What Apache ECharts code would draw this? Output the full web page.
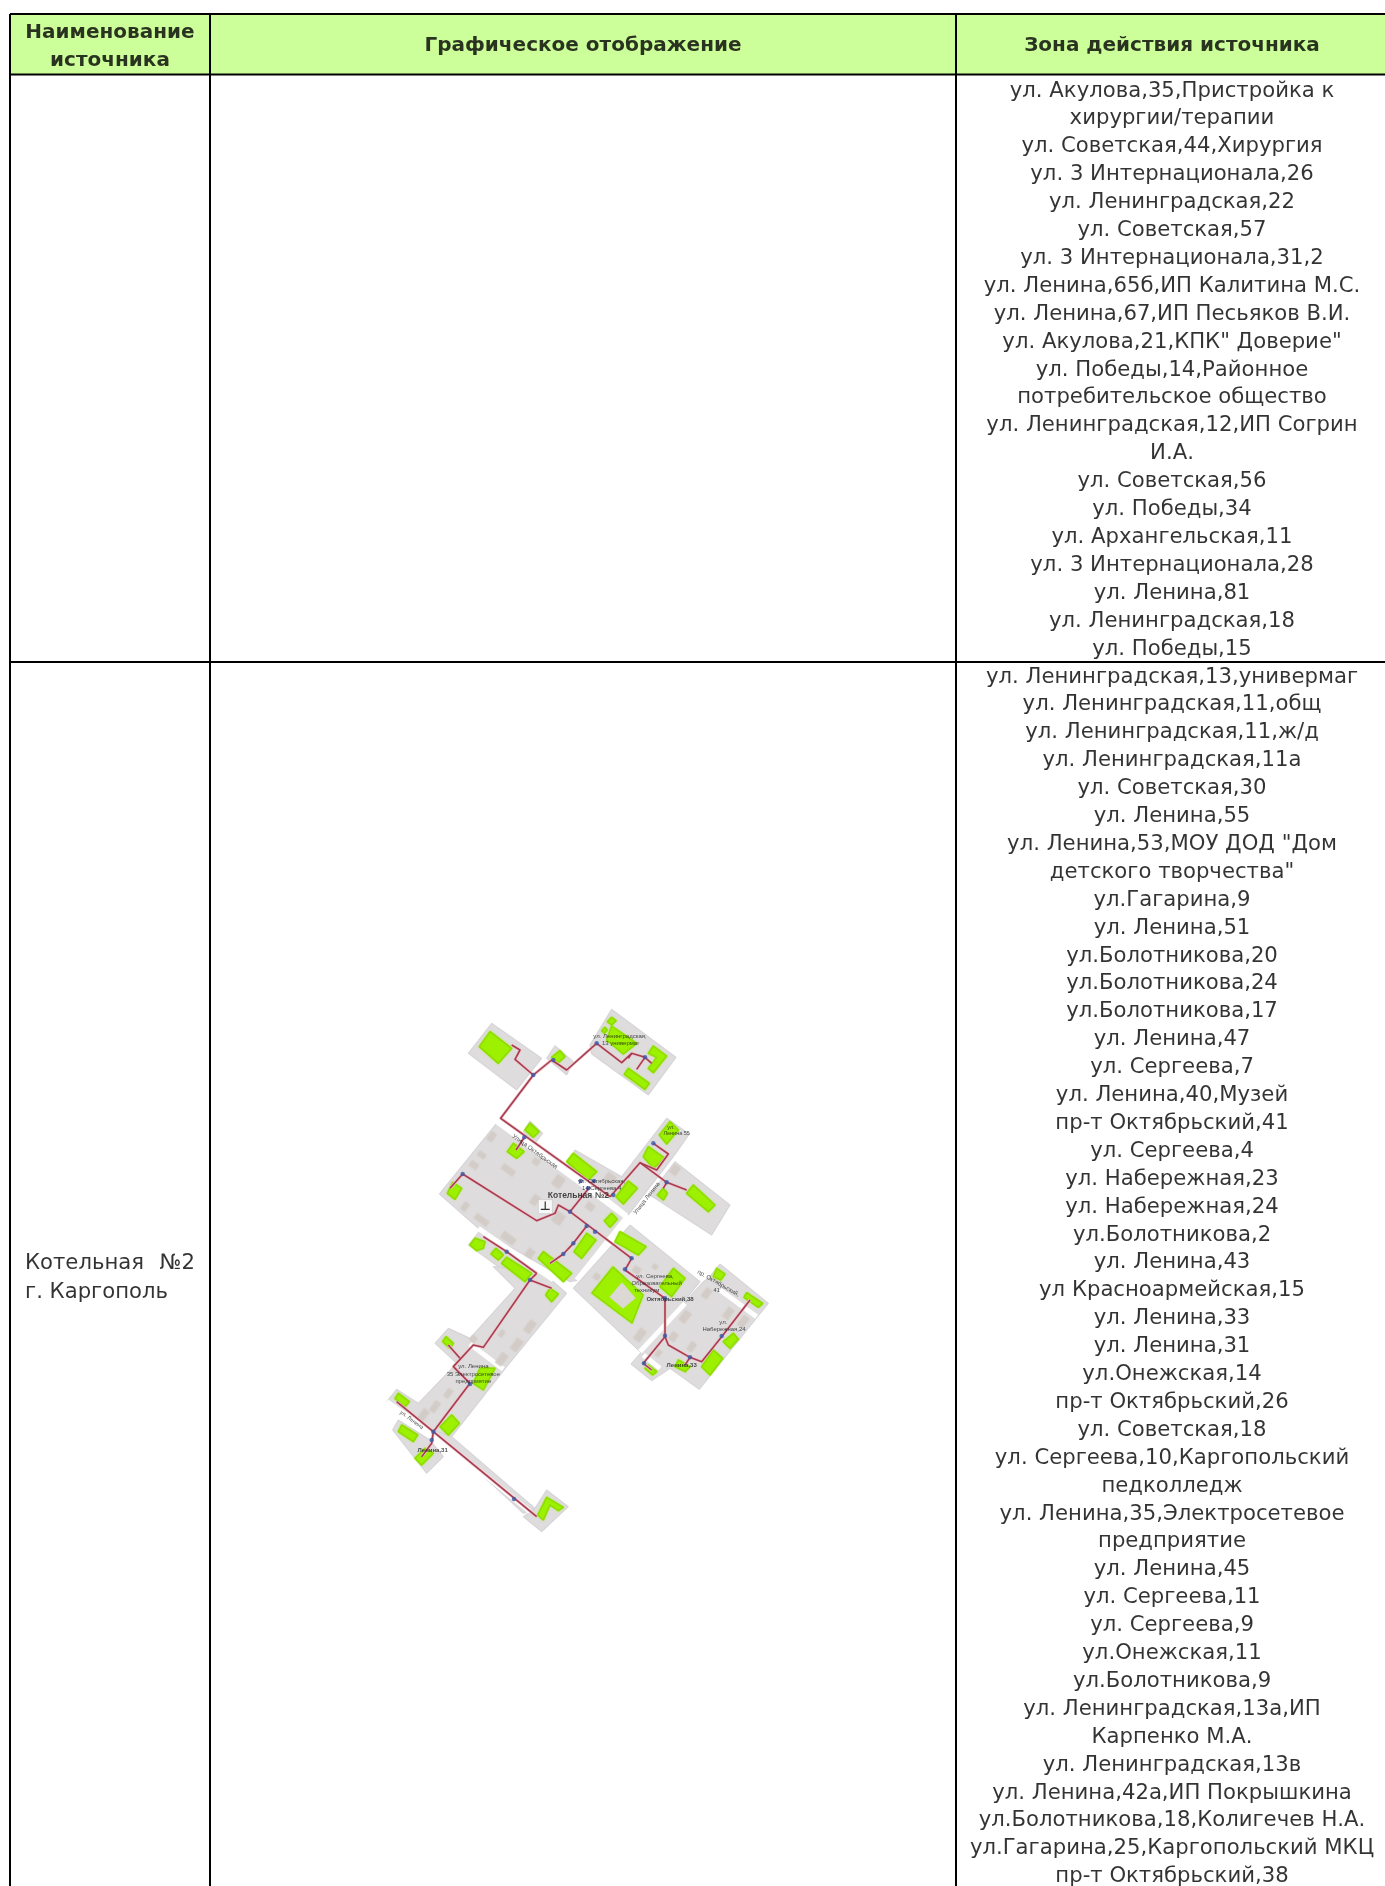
<!DOCTYPE html>
<html><head><meta charset="utf-8">
<style>html,body{margin:0;padding:0;background:#fff}#c{width:1385px;height:1886px}</style>
<script src="https://cdn.jsdelivr.net/npm/echarts@6/dist/echarts.min.js"></script>
</head><body><div id="c"></div>
<script>
const headerCols = ["Графическое отображение", "Зона действия источника"];
const headerFirst = ["Наименование", "источника"];
const sourceName = ["Котельная", "№2", "г. Каргополь"];
const zoneUpper = ["ул. Акулова,35,Пристройка к","хирургии/терапии","ул. Советская,44,Хирургия","ул. 3 Интернационала,26","ул. Ленинградская,22","ул. Советская,57","ул. 3 Интернационала,31,2","ул. Ленина,65б,ИП Калитина М.С.","ул. Ленина,67,ИП Песьяков В.И.","ул. Акулова,21,КПК\" Доверие\"","ул. Победы,14,Районное","потребительское общество","ул. Ленинградская,12,ИП Согрин","И.А.","ул. Советская,56","ул. Победы,34","ул. Архангельская,11","ул. 3 Интернационала,28","ул. Ленина,81","ул. Ленинградская,18","ул. Победы,15"];
const zoneLower = ["ул. Ленинградская,13,универмаг","ул. Ленинградская,11,общ","ул. Ленинградская,11,ж/д","ул. Ленинградская,11а","ул. Советская,30","ул. Ленина,55","ул. Ленина,53,МОУ ДОД \"Дом","детского творчества\"","ул.Гагарина,9","ул. Ленина,51","ул.Болотникова,20","ул.Болотникова,24","ул.Болотникова,17","ул. Ленина,47","ул. Сергеева,7","ул. Ленина,40,Музей","пр-т Октябрьский,41","ул. Сергеева,4","ул. Набережная,23","ул. Набережная,24","ул.Болотникова,2","ул. Ленина,43","ул Красноармейская,15","ул. Ленина,33","ул. Ленина,31","ул.Онежская,14","пр-т Октябрьский,26","ул. Советская,18","ул. Сергеева,10,Каргопольский","педколледж","ул. Ленина,35,Электросетевое","предприятие","ул. Ленина,45","ул. Сергеева,11","ул. Сергеева,9","ул.Онежская,11","ул.Болотникова,9","ул. Ленинградская,13а,ИП","Карпенко М.А.","ул. Ленинградская,13в","ул. Ленина,42а,ИП Покрышкина","ул.Болотникова,18,Колигечев Н.А.","ул.Гагарина,25,Каргопольский МКЦ","пр-т Октябрьский,38"];

// Map sheet: units are 1/3 px; "S" arrays are measured from the lower half of the sheet.
const blocks = [
 [[365,130],[515,235],[440,330],[295,220]],
 [[530,235],[555,197],[610,245],[590,285]],
 [[725,88],[918,232],[835,345],[665,222],[660,195]],
 [[480,423],[518,460],[495,490],[460,455]],
 [[378,432],[770,712],[625,900],[600,905],[325,745],[208,642]],
 [[330,752],[540,892],[500,960],[440,900],[295,795]],
 [[615,510],[755,590],[890,415],[958,462],[910,530],[775,705],[590,565]],
 [[915,545],[1080,675],[1025,765],[840,645]],
 [[780,735],[990,905],[815,1120],[610,925]],
 [[1050,852],[1195,970],[988,1228],[900,1165],[845,1202],[783,1152],[820,1110],[900,1015],[1000,905],[1015,895]]
];
const blocksS = [
 [[435,55],[300,205],[235,175],[195,220],[260,280],[145,400],[80,358],[50,395],[190,490],[245,500],[410,290],[590,70],[510,0],[370,-10]],
 [[85,450],[68,480],[170,610],[220,560],[180,510]],
 [[190,480],[245,500],[495,715],[460,730]],
 [[530,660],[595,710],[515,785],[460,740],[495,715]]
];
const roads = [
 [[380,425],[770,712]],[[770,712],[620,900]],[[325,745],[550,900]],[[590,565],[770,708]]
];
const roadsS = [
 [[300,222],[400,298]],[[945,100],[810,245]],[[1050,60],[1160,140]],[[820,255],[870,295]],[[50,395],[190,490]],[[190,490],[480,725]]
];
const lots = [[365,470,18,28],[335,525,24,16],[312,555,26,18],[415,570,42,18],[498,545,20,18],[565,605,28,34],[495,660,20,30],[285,680,16,26],[335,720,44,18],[415,775,44,22],[480,820,22,26],[565,715,30,34],[660,680,24,20],[720,595,30,26],[915,570,22,28],[855,860,14,14],[680,890,18,18],[800,870,22,20]];
const lotsS = [[480,170,22,38],[440,225,22,38],[395,268,22,38],[235,370,16,28],[195,410,18,34],[160,435,20,36],[395,190,14,20],[810,195,22,38],[945,140,22,36],[910,200,20,26],[965,230,18,28],[865,250,14,20],[1075,130,20,34],[1120,155,20,34],[1010,70,20,30],[310,207,18,18]];
const buildings = [
 [[360,155],[425,205],[385,250],[328,200]],[[570,212],[585,230],[565,248],[545,232]],[[725,138],[800,190],[760,222],[710,180]],
 [[725,112],[738,122],[725,135],[712,125]],[[705,142],[712,150],[703,160],[695,152]],[[850,198],[890,228],[850,278],[835,265],[860,232],[835,220]],
 [[775,265],[838,310],[825,328],[763,283]],[[480,430],[507,455],[490,472],[465,450]],[[430,490],[462,515],[440,535],[412,515]],
 [[610,520],[680,575],[655,600],[590,545]],[[900,425],[925,450],[890,492],[868,465]],[[835,500],[885,535],[850,565],[820,530]],
 [[775,603],[802,625],[760,672],[738,650]],[[880,625],[892,640],[880,660],[862,645]],[[970,615],[1035,675],[1015,695],[950,640]],
 [[248,607],[275,625],[255,658],[232,640]],[[725,700],[742,718],[720,742],[703,722]],[[650,760],[678,780],[635,835],[612,815]],
 [[750,755],[828,800],[805,825],[735,785]],[[520,815],[605,880],[580,905],[505,835]],[[315,775],[345,785],[340,805],[320,812],[300,795]],
 [[378,805],[400,825],[385,840],[363,822]],[[410,832],[485,880],[465,905],[395,850]],[[910,865],[945,895],[905,950],[870,920]],
 [[1040,865],[1065,882],[1052,900],[1030,890]],
 [[729,861],[819,945],[786,1029],[666,939]]
];
const buildingsS = [
 [[1130,68],[1178,100],[1165,112],[1122,82]],[[1090,190],[1105,208],[1080,235],[1060,215]],
 [[1030,240],[1058,265],[1020,315],[995,290]],[[925,270],[960,290],[945,305],[915,290]],[[835,285],[860,305],[848,315],[825,295]],
 [[540,55],[565,72],[545,95],[527,75]],[[228,200],[250,220],[240,235],[218,215]],[[330,295],[375,295],[340,360],[310,340]],
 [[85,370],[118,395],[105,410],[75,385]],[[245,435],[268,460],[235,495],[210,470]],[[95,465],[143,495],[130,515],[85,485]],
 [[165,535],[190,550],[155,585],[135,565]],[[530,682],[580,712],[565,722],[540,705],[520,750],[503,735]]
];
const courtyards = [[[756,909],[795,954],[759,984],[720,951]]];
const pipes = [
 [[425,195],[450,210],[435,238],[490,285],[545,240],[590,270],[680,190],[755,248],[785,220],[825,232],[800,268]],
 [[785,220],[775,235]],[[825,232],[845,250]],
 [[490,285],[392,415],[720,650]],
 [[240,625],[278,582],[500,722],[555,700],[565,675],[600,695],[785,835],[765,870]],
 [[600,695],[660,620]],[[650,738],[610,790],[580,822],[540,850]],
 [[720,650],[765,600],[810,548],[890,607],[950,630]],
 [[810,548],[860,570],[895,522],[850,490]],[[463,472],[438,510]],[[890,607],[880,625]],
 [[340,770],[410,815],[500,880]]
];
const pipesS = [
 [[500,10],[480,30],[340,232],[310,225],[250,290],[300,340],[190,485],[80,395]],
 [[190,485],[500,740]],[[480,30],[545,55]],[[270,265],[235,225]],[[190,485],[185,520],[155,560]],
 [[765,0],[885,85],[885,200],[820,280],[845,300]],
 [[885,200],[895,225],[960,262],[995,275],[1055,200],[1140,90]],[[960,262],[945,285]]
];
const valves = [[490,285],[550,240],[680,190],[825,232],[463,472],[278,582],[850,490],[890,607],[600,695],[650,738],[675,755],[610,790],[580,822],[410,815],[785,835],[765,868],[632,603],[672,603],[655,625],[730,645]];
const valvesS = [[480,30],[300,342],[190,485],[185,510],[432,687],[885,85],[885,197],[822,280],[960,262],[1055,198]];
const mapLabels = [
 ["Котельная №2",625,648,8.5,"bold",0],
 ["ул. Ленинградская,",750,170,6,"normal",0],["13 универмаг",752,190,6,"normal",0],
 ["ул.",903,442,5.5,"normal",0],["Ленина 55",920,461,5.5,"normal",0],
 ["Улица Октябрьская",495,515,6,"normal",-36],["Улица Ленина",830,655,6,"normal",52],
 ["ул. Октябрьская,",695,603,6,"normal",0],["14 Сергеева 4",695,624,6,"normal",0]
];
const mapLabelsS = [
 ["ул. Сергеева,",855,18,6,"normal",0],["Образовательный",860,40,6,"normal",0],["техникум",830,62,6,"normal",0],["Октябрьский,38",900,88,6,"bold",0],
 ["пр. Октябрьский,",1045,40,6,"normal",-30],["41",1040,60,5.5,"normal",0],
 ["ул.",1060,156,6,"normal",0],["Набережная,24",1062,177,6,"normal",0],["Ленина,33",935,285,6,"bold",0],
 ["ул. Ленина",310,290,6,"normal",0],["35 Электросетевое",310,312,6,"normal",0],["предприятие",310,334,6,"normal",0],
 ["Ленина,31",188,540,6,"bold",0],["ул. Ленина",125,450,5.5,"normal",-36]
];

const SHEET_SHIFT = 870;
const down = a => a.map(p => [p[0], p[1] + SHEET_SHIFT]);
const allBlocks = blocks.concat(blocksS.map(down));
const allRoads = roads.concat(roadsS.map(down));
const allBuildings = buildings.concat(buildingsS.map(down));
const allPipes = pipes.concat(pipesS.map(down));
const allValves = valves.concat(down(valvesS));
const allLots = lots.concat(lotsS.map(l => [l[0], l[1] + SHEET_SHIFT, l[2], l[3]]));
const allLabels = mapLabels.concat(mapLabelsS.map(l => [l[0], l[1], l[2] + SHEET_SHIFT, l[3], l[4], l[5]]));

const FONT = '"DejaVu Sans",sans-serif';
const BODY = 21.2, HEAD = 20, STEP = 27.9, LINE = '#000';
const X = {l:10, a:210, b:956, r:1385, c1:110, c2:583, c3:1172, text:25, textR:195};
const Y = {t:14, h:74.5, m:662, bottom:1886};

function textSeries(name, items, size, weight, align){
  return {type:'scatter', name, xAxisIndex:0, yAxisIndex:0, symbolSize:0, silent:true, z:6, clip:false,
    data: items.map(t => ({value:[t[1],t[2]], name:t[0]})),
    label:{show:true, position:'inside', formatter:p=>p.name, color:'#000', fontFamily:FONT, fontSize:size, fontWeight:weight, align:align||'center', verticalAlign:'middle'}};
}
const polySeries = (polys, fill, stroke, z, lw, blur) => ({type:'custom', xAxisIndex:1, yAxisIndex:1, z, silent:true, clip:false,
  data: polys.map(p=>p[0]),
  renderItem:(ps,api)=>({type:'polygon', shape:{points:polys[ps.dataIndex].map(q=>api.coord(q))}, style:{fill, stroke:stroke||fill, lineWidth:lw||0.5, lineJoin:'round', shadowBlur:blur||0, shadowColor:fill}})});
const lineSeries = (paths, color, width, z) => ({type:'custom', xAxisIndex:1, yAxisIndex:1, z, silent:true, clip:false,
  data: paths.map(p=>p[0]),
  renderItem:(ps,api)=>({type:'polyline', shape:{points:paths[ps.dataIndex].map(q=>api.coord(q))}, style:{fill:'none', stroke:color, lineWidth:width, lineJoin:'round'}})});

const rules = [[X.l,Y.t,X.r,Y.t],[X.l,Y.h,X.r,Y.h],[X.l,Y.m,X.r,Y.m],[X.l,Y.t,X.l,Y.bottom],[X.a,Y.t,X.a,Y.bottom],[X.b,Y.t,X.b,Y.bottom]];

const option = {
  animation:false, backgroundColor:'#fff', tooltip:{show:false},
  grid:[{left:0,top:0,width:1385,height:1886},{left:370,top:980,width:420,height:590}],
  xAxis:[{type:'value',gridIndex:0,min:0,max:1385,show:false},{type:'value',gridIndex:1,min:0,max:1260,show:false}],
  yAxis:[{type:'value',gridIndex:0,min:0,max:1886,inverse:true,show:false},{type:'value',gridIndex:1,min:0,max:1770,inverse:true,show:false}],
  series:[
    {type:'custom',xAxisIndex:0,yAxisIndex:0,z:1,silent:true,data:[[X.l,Y.t]],
     renderItem:(ps,api)=>{const a=api.coord([X.l,Y.t]),b=api.coord([X.r,Y.h]);return {type:'rect',shape:{x:a[0],y:a[1],width:b[0]-a[0],height:b[1]-a[1]},style:{fill:'#ccff99'}};}},
    {type:'custom',xAxisIndex:0,yAxisIndex:0,z:5,silent:true,data:rules.map(r=>r[0]),
     renderItem:(ps,api)=>{const r=rules[ps.dataIndex],a=api.coord([r[0],r[1]]),b=api.coord([r[2],r[3]]);return {type:'line',shape:{x1:a[0],y1:a[1],x2:b[0],y2:b[1]},style:{stroke:LINE,lineWidth:2}};}},
    textSeries('h1', headerFirst.map((t,i)=>[t,X.c1,33+i*27.5]), HEAD,'bold'),
    textSeries('h2', [[headerCols[0],X.c2,46],[headerCols[1],X.c3,46]], HEAD,'bold'),
    textSeries('upper', zoneUpper.map((t,i)=>[t,X.c3,91+i*STEP]), BODY,'normal'),
    textSeries('lower', zoneLower.map((t,i)=>[t,X.c3,677+i*STEP]), BODY,'normal'),
    textSeries('src1', [[sourceName[0],X.text,1263],[sourceName[2],X.text,1292]], BODY,'normal','left'),
    textSeries('src2', [[sourceName[1],X.textR,1263]], BODY,'normal','right'),
    polySeries(allBlocks,'#dedcdc','#c9c9d2',2,0.6,1),
    lineSeries(allRoads,'#ffffff',5,3),
    {type:'scatter',xAxisIndex:1,yAxisIndex:1,z:3,silent:true,clip:false,
     data:allLots.map(l=>({value:[l[0],l[1]],symbolSize:[l[2]/3,l[3]/3]})),symbol:'rect',symbolRotate:-36,
     itemStyle:{color:'#d2cbc6',shadowBlur:2,shadowColor:'#d2cbc6'}},
    polySeries(allBuildings,'#9cf000','#8fdc00',4,1.5,1.5),
    polySeries(courtyards,'#dcd8d4','#dcd8d4',4,0.5,1),
    lineSeries(allPipes,'#ecc4cc',3,4),
    lineSeries(allPipes,'#a83c4e',1.6,4),
    {type:'scatter',xAxisIndex:1,yAxisIndex:1,z:5,silent:true,clip:false,symbol:'circle',symbolSize:4.5,data:allValves,itemStyle:{color:'#3a5aa8'}},
    {type:'scatter',xAxisIndex:1,yAxisIndex:1,z:5,silent:true,clip:false,symbol:'rect',symbolSize:[14,14],data:[[526,680]],
     itemStyle:{color:'#fff',borderColor:'#bbb',borderWidth:0.6},
     label:{show:true,position:'inside',formatter:'⊥',fontSize:12,fontWeight:'bold',color:'#000',fontFamily:FONT}},
    {type:'scatter',xAxisIndex:1,yAxisIndex:1,z:6,silent:true,clip:false,symbolSize:0,
     data:allLabels.map(l=>({value:[l[1],l[2]],name:l[0],label:{fontSize:l[3],fontWeight:l[4],rotate:l[5]}})),
     label:{show:true,position:'inside',formatter:p=>p.name,color:'#1a1a1a',fontFamily:'"Liberation Sans",sans-serif',align:'center',verticalAlign:'middle'}}
  ]
};
echarts.init(document.getElementById('c'),null,{renderer:'canvas'}).setOption(option);
</script></body></html>
